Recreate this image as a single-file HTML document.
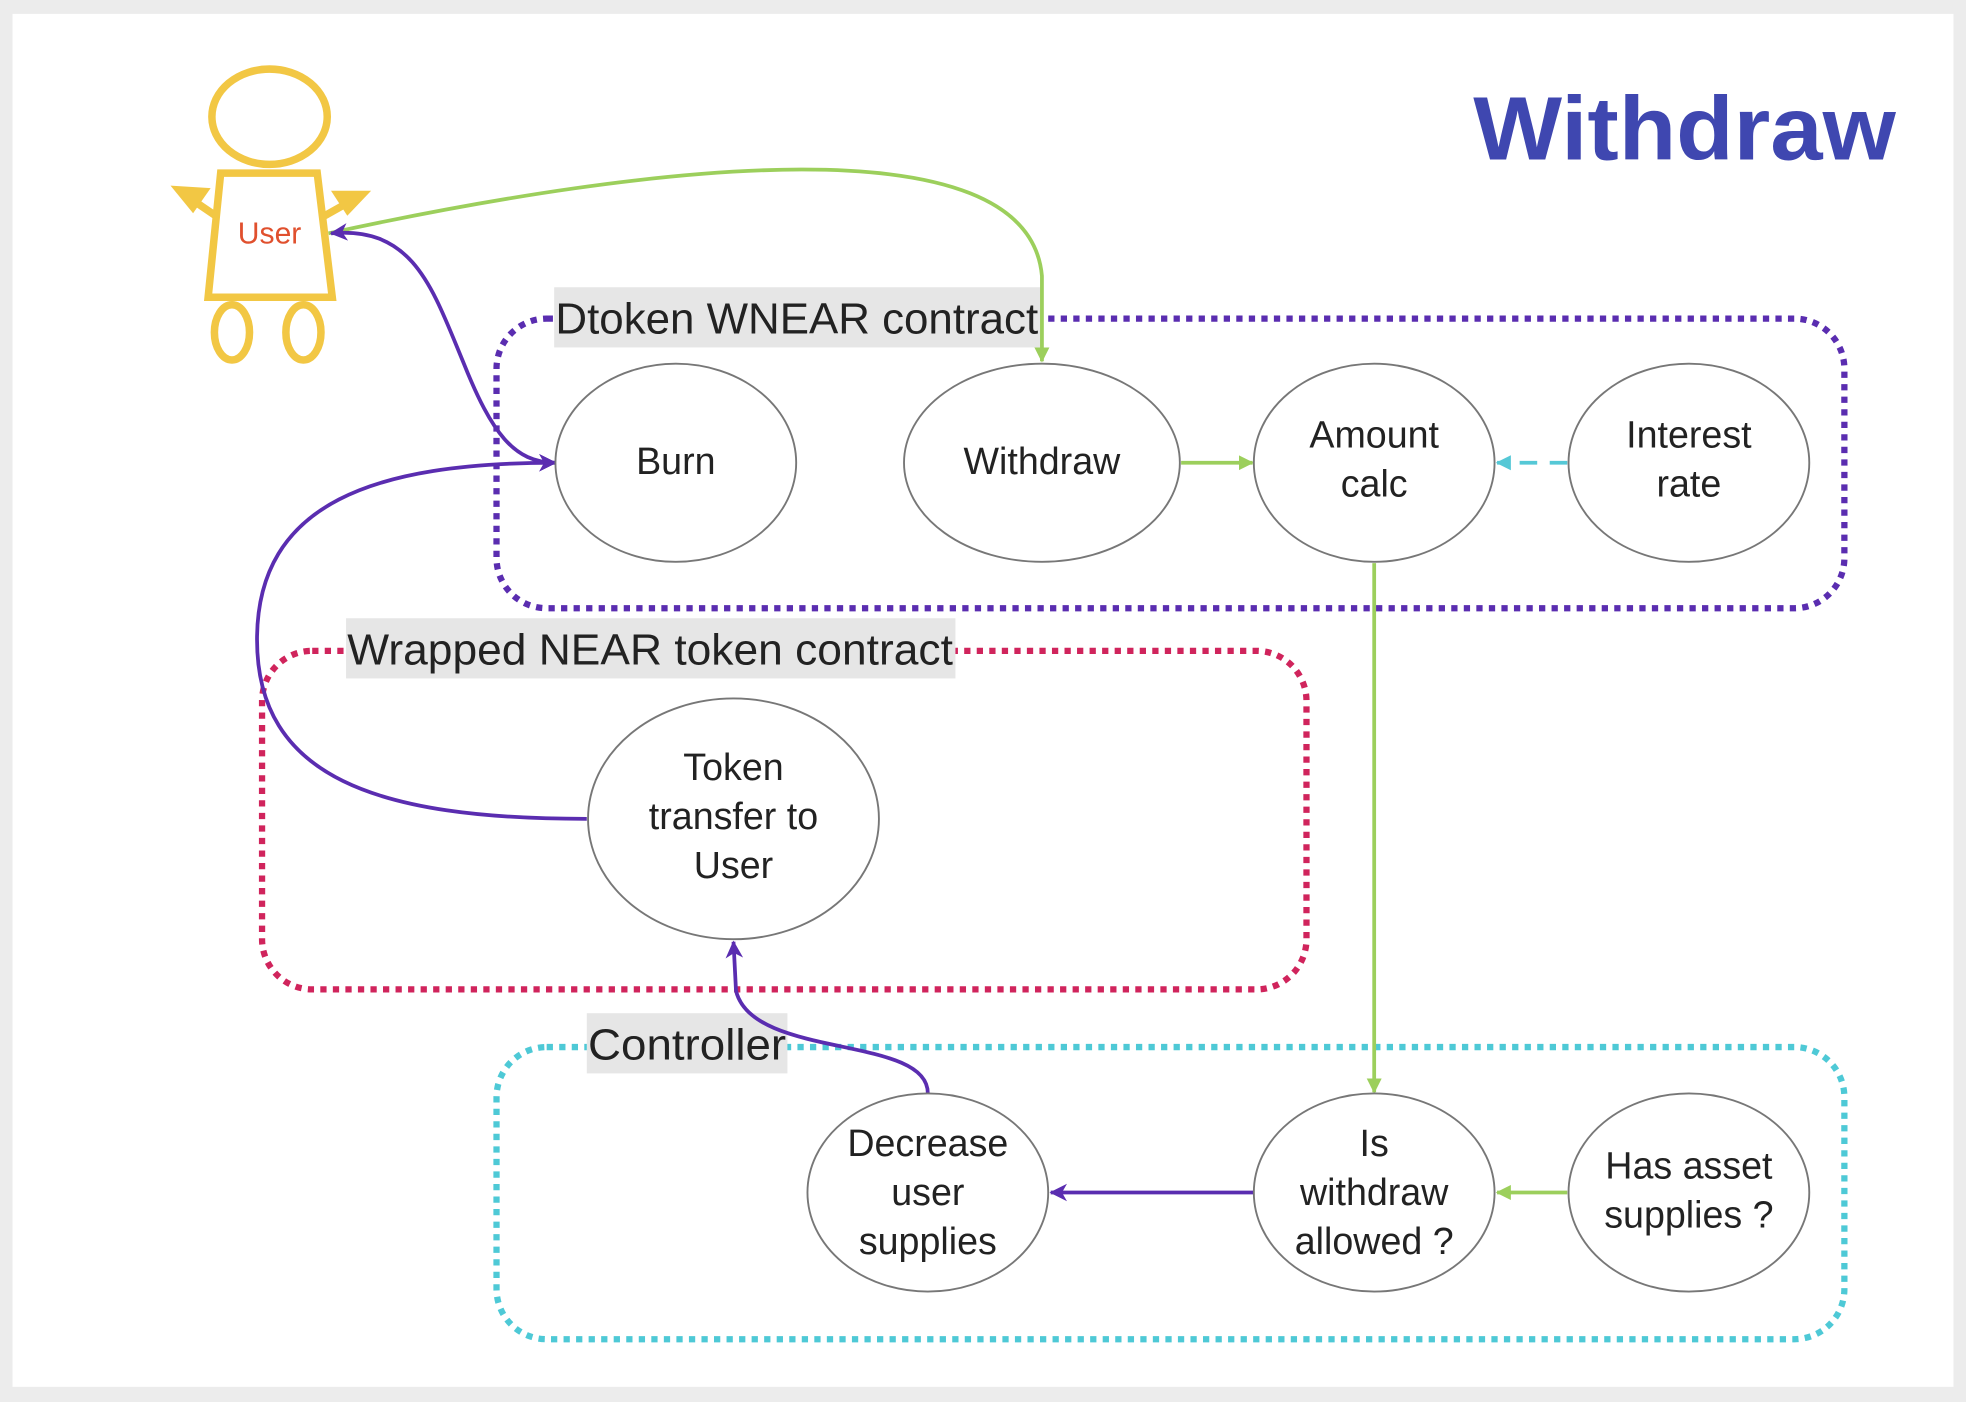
<!DOCTYPE html>
<html><head><meta charset="utf-8"><style>
html,body{margin:0;padding:0;background:#ececec;}
svg{display:block;}
text{font-family:"Liberation Sans","DejaVu Sans",sans-serif;}
</style></head><body>
<svg width="1966" height="1402" viewBox="0 0 1568 1118" xmlns="http://www.w3.org/2000/svg">
<defs>
<marker id="ag" markerWidth="12" markerHeight="12" refX="11" refY="6" orient="auto" markerUnits="userSpaceOnUse"><path d="M0,0 L12,6 L0,12 Z" fill="#9ccf5c"/></marker>
<marker id="ap" markerWidth="14" markerHeight="14" refX="13" refY="7" orient="auto" markerUnits="userSpaceOnUse"><path d="M0,0 L14,7 L0,14 L4,7 Z" fill="#5a2db0"/></marker>
<marker id="apr" markerWidth="14" markerHeight="14" refX="1" refY="7" orient="auto" markerUnits="userSpaceOnUse"><path d="M14,0 L0,7 L14,14 L10,7 Z" fill="#5a2db0"/></marker>
<marker id="ac" markerWidth="12" markerHeight="12" refX="11" refY="6" orient="auto" markerUnits="userSpaceOnUse"><path d="M0,0 L12,6 L0,12 Z" fill="#55c8d6"/></marker>
</defs>
<rect x="0" y="0" width="1568" height="1118" fill="#ececec"/>
<rect x="10" y="11" width="1548" height="1095" fill="#fff"/>
<text x="1512" y="127" text-anchor="end" font-size="72" font-weight="bold" fill="#3f47b0" textLength="337" lengthAdjust="spacingAndGlyphs">Withdraw</text>

<rect x="396" y="254" width="1075" height="231" rx="40" fill="none" stroke="#5a2db0" stroke-width="5" stroke-dasharray="5 5"/>
<rect x="209" y="519" width="833" height="270" rx="40" fill="none" stroke="#d0245c" stroke-width="5" stroke-dasharray="5 5"/>
<rect x="396" y="835" width="1075" height="233" rx="40" fill="none" stroke="#4ec9d6" stroke-width="5" stroke-dasharray="5 5"/>
<rect x="442" y="229" width="388" height="48" fill="#e6e6e6"/>
<text x="443" y="266" font-size="35" fill="#222" textLength="385" lengthAdjust="spacingAndGlyphs">Dtoken WNEAR contract</text>
<rect x="276" y="493" width="486" height="48" fill="#e6e6e6"/>
<text x="277" y="530" font-size="35" fill="#222" textLength="483" lengthAdjust="spacingAndGlyphs">Wrapped NEAR token contract</text>
<rect x="468" y="808" width="160" height="48" fill="#e6e6e6"/>
<text x="469" y="845" font-size="35" fill="#222" textLength="158" lengthAdjust="spacingAndGlyphs">Controller</text>

<g fill="none" stroke="#f2c744" stroke-width="6">
<ellipse cx="215" cy="93" rx="46" ry="38"/>
<path d="M176,138 L253,138 L265,237 L166,237 Z"/>
<ellipse cx="185" cy="265" rx="14" ry="22"/>
<ellipse cx="242" cy="265" rx="14" ry="22"/>
<line x1="172" y1="172" x2="150" y2="157"/>
<line x1="259" y1="172" x2="282" y2="159"/>
</g>
<path d="M136,148 L168,150 L154,170 Z" fill="#f2c744"/>
<path d="M296,152 L264,152 L277,172 Z" fill="#f2c744"/>
<text x="215" y="194" text-anchor="middle" font-size="24" fill="#e0502e">User</text>

<path d="M262,186 C520,130 820,95 831,220 L831,288" fill="none" stroke="#9ccf5c" stroke-width="3" marker-end="url(#ag)"/>
<path d="M264,186 C330,180 345,230 370,290 C392,345 410,369 443,369" fill="none" stroke="#5a2db0" stroke-width="3" marker-start="url(#apr)" marker-end="url(#ap)"/>
<path d="M468,653 C300,653 205,620 205,510 C205,400 300,369 443,369" fill="none" stroke="#5a2db0" stroke-width="3" marker-end="url(#ap)"/>
<line x1="942" y1="369" x2="999" y2="369" stroke="#9ccf5c" stroke-width="3" marker-end="url(#ag)"/>
<line x1="1250" y1="369" x2="1194" y2="369" stroke="#55c8d6" stroke-width="3" stroke-dasharray="14 10" marker-end="url(#ac)"/>
<line x1="1096" y1="449" x2="1096" y2="871" stroke="#9ccf5c" stroke-width="3" marker-end="url(#ag)"/>
<line x1="1250" y1="951" x2="1194" y2="951" stroke="#9ccf5c" stroke-width="3" marker-end="url(#ag)"/>
<line x1="1000" y1="951" x2="838" y2="951" stroke="#5a2db0" stroke-width="3" marker-end="url(#ap)"/>
<path d="M740,872 C740,825 600,845 587,790 L585,751" fill="none" stroke="#5a2db0" stroke-width="3" marker-end="url(#ap)"/>

<g fill="#fff" stroke="#777" stroke-width="1.5">
<ellipse cx="539" cy="369" rx="96" ry="79"/>
<ellipse cx="831" cy="369" rx="110" ry="79"/>
<ellipse cx="1096" cy="369" rx="96" ry="79"/>
<ellipse cx="1347" cy="369" rx="96" ry="79"/>
<ellipse cx="585" cy="653" rx="116" ry="96"/>
<ellipse cx="740" cy="951" rx="96" ry="79"/>
<ellipse cx="1096" cy="951" rx="96" ry="79"/>
<ellipse cx="1347" cy="951" rx="96" ry="79"/>
</g>
<g font-size="30" fill="#222" text-anchor="middle">
<text x="539" y="378">Burn</text>
<text x="831" y="378">Withdraw</text>
<text x="1096" y="357">Amount</text><text x="1096" y="396">calc</text>
<text x="1347" y="357">Interest</text><text x="1347" y="396">rate</text>
<text x="585" y="622">Token</text><text x="585" y="661">transfer to</text><text x="585" y="700">User</text>
<text x="740" y="922">Decrease</text><text x="740" y="961">user</text><text x="740" y="1000">supplies</text>
<text x="1096" y="922">Is</text><text x="1096" y="961">withdraw</text><text x="1096" y="1000">allowed ?</text>
<text x="1347" y="940">Has asset</text><text x="1347" y="979">supplies ?</text>
</g>
</svg>
</body></html>
